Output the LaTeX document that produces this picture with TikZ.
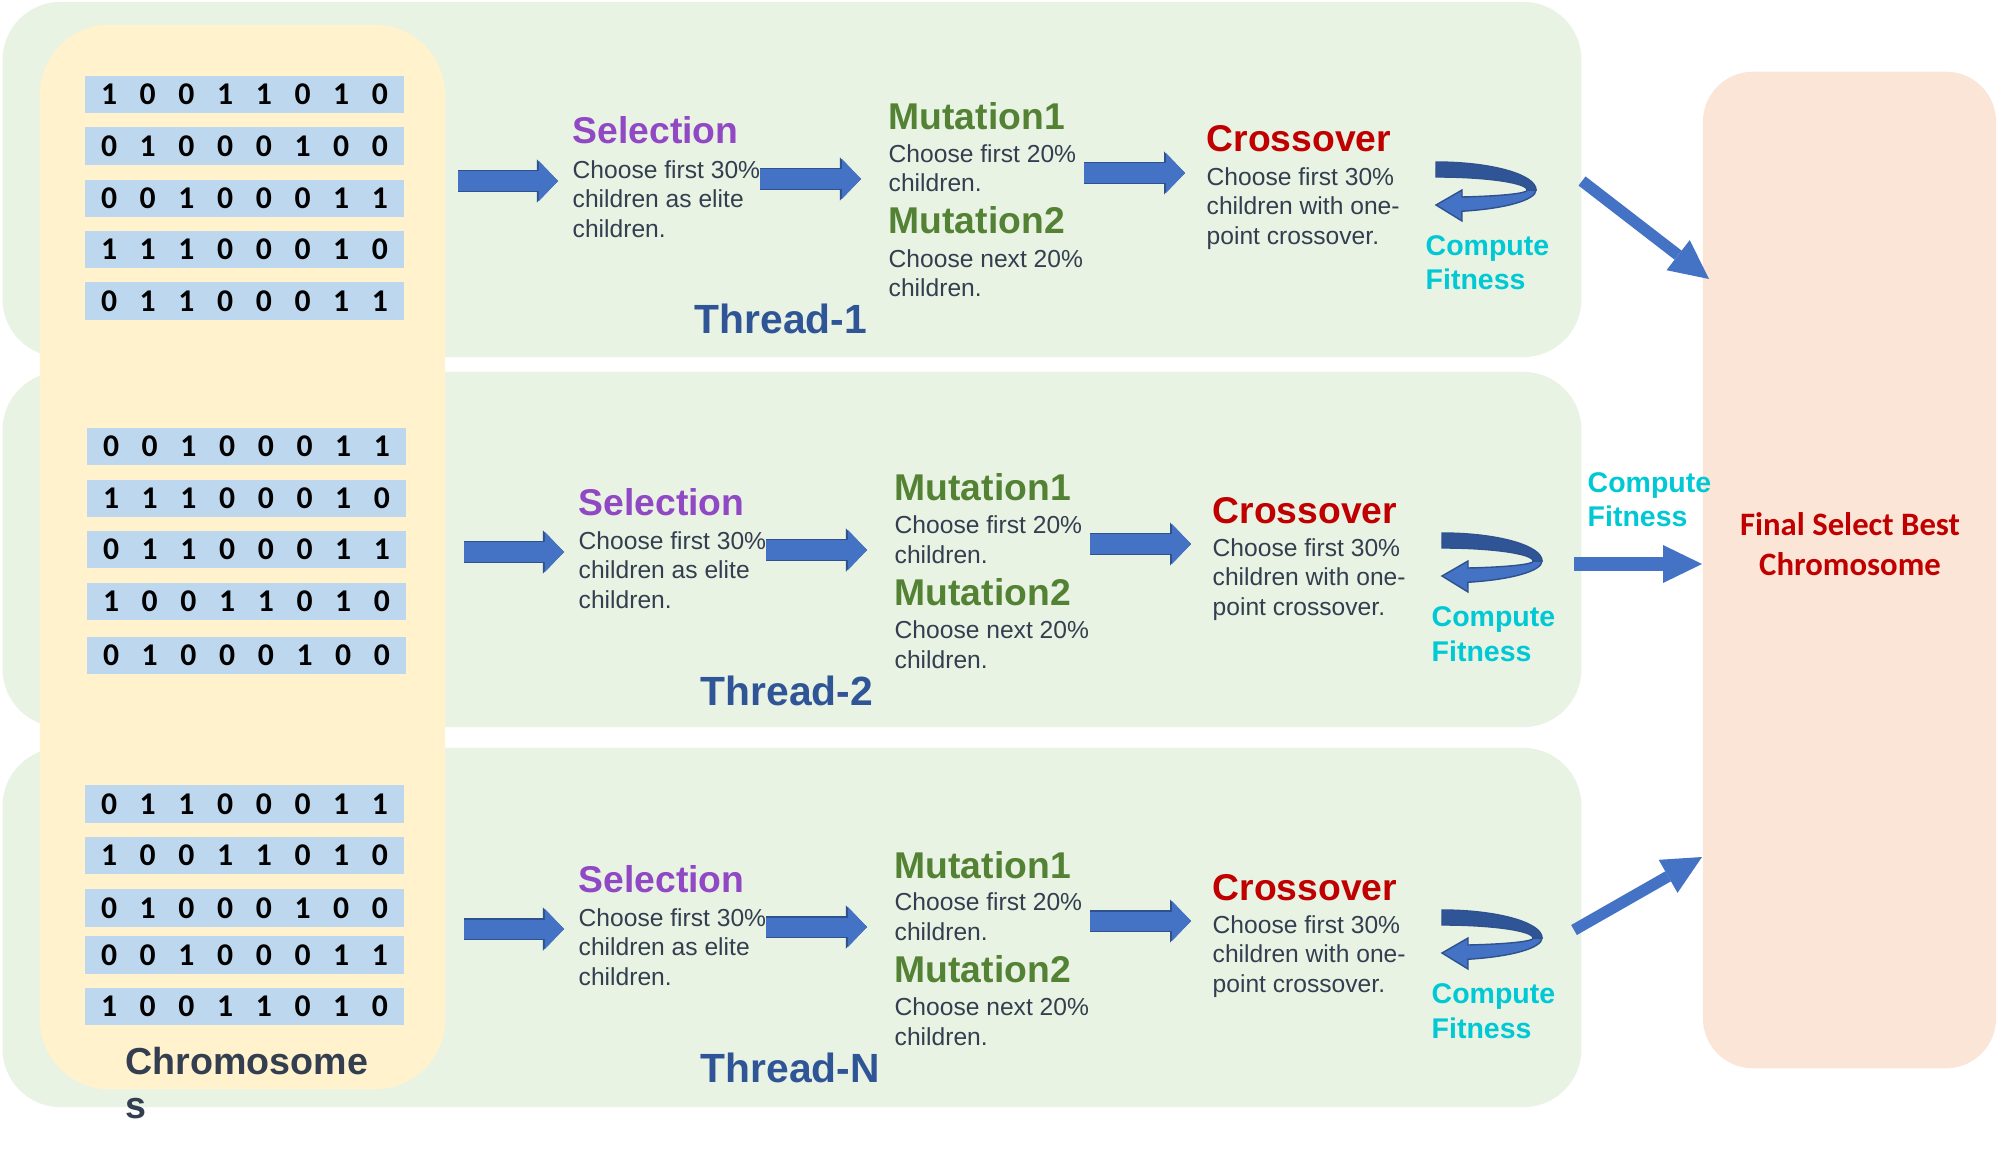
\documentclass[tikz,border=0pt]{standalone}
\usepackage{fontspec}
\setmainfont{Liberation Sans}
\newfontfamily\calfont{Carlito}
\usepackage{tikz}
\usepackage{xcolor}
\usetikzlibrary{arrows.meta}
\tikzset{>=latex}
\definecolor{panelgreen}{RGB}{233,243,227}
\definecolor{panelyellow}{RGB}{255,242,205}
\definecolor{panelpeach}{RGB}{250,229,214}
\definecolor{rowblue}{RGB}{189,215,238}
\definecolor{arrowblue}{RGB}{68,114,196}
\definecolor{arrowedge}{RGB}{47,82,143}
\definecolor{ribbondark}{RGB}{47,85,151}
\definecolor{bodytext}{RGB}{51,63,80}
\definecolor{selpurple}{RGB}{145,72,196}
\definecolor{mutgreen}{RGB}{84,130,53}
\definecolor{crossred}{RGB}{192,0,0}
\definecolor{fitcyan}{RGB}{0,200,212}
\definecolor{threadblue}{RGB}{47,85,151}

\begin{document}
\begin{tikzpicture}[x=0.01cm, y=-0.01cm,
		panel/.style = {rectangle, inner sep=0pt, rounded corners=#1},
		bitrow/.style = {rectangle, fill=rowblue, inner sep=0pt, minimum width=3.18cm, minimum height=0.37cm},
		bit/.style = {inner sep=0pt, font=\calfont\bfseries\fontsize{9}{10}\selectfont},
		steptitle/.style = {anchor=base west, inner sep=0pt, font=\bfseries\fontsize{10.6}{12}\selectfont},
		stepbody/.style = {anchor=base west, inner sep=0pt, align=left, text=bodytext, font=\fontsize{7}{8.45}\selectfont},
		fitness/.style = {anchor=base west, inner sep=0pt, align=left, text=fitcyan, font=\bfseries\fontsize{8.1}{9.7}\selectfont},
		threadlabel/.style = {anchor=base west, inner sep=0pt, text=threadblue, font=\bfseries\fontsize{11.6}{14}\selectfont},
		blk/.style = {draw=arrowblue, line width=0.19cm,
			-{Triangle[length=0.19cm, width=0.40cm, line width=0pt]},
			preaction={draw=arrowedge, line width=0.215cm, -{Triangle[length=0.21cm, width=0.43cm, line width=0pt]}}
		},
		bigarrow/.style = {draw=arrowblue, line width=#1, -{Triangle[length=0.39cm, width=0.38cm, line width=0pt]}},
	]
	\useasboundingbox (0,0) rectangle (1997,1152);
	\foreach \thr/\cy/\h in {1/179.5/3.55cm, 2/549.5/3.55cm, 3/927.5/3.59cm}
		\node[panel=0.58cm, fill=panelgreen, minimum width=15.78cm, minimum height=\h] (thr\thr) at (792,\cy) {};
	\node[panel=0.70cm, fill=panelyellow, minimum width=4.05cm, minimum height=10.64cm] (pool) at (242.5,557) {};
	\node[panel=0.50cm, fill=panelpeach, minimum width=2.93cm, minimum height=9.96cm] (final) at (1849.5,570) {};
	
	\foreach \cx/\cy/\bits [count=\r] in {
			244.5/94.5/{1,0,0,1,1,0,1,0}, 244.5/146/{0,1,0,0,0,1,0,0}, 244.5/198.5/{0,0,1,0,0,0,1,1},
			244.5/249.5/{1,1,1,0,0,0,1,0}, 244.5/301/{0,1,1,0,0,0,1,1},
			246.5/446.5/{0,0,1,0,0,0,1,1}, 246.5/498.5/{1,1,1,0,0,0,1,0}, 246.5/549.5/{0,1,1,0,0,0,1,1},
			246.5/601.5/{1,0,0,1,1,0,1,0}, 246.5/655.5/{0,1,0,0,0,1,0,0},
			244.5/804/{0,1,1,0,0,0,1,1}, 244.5/855.5/{1,0,0,1,1,0,1,0}, 244.5/908/{0,1,0,0,0,1,0,0},
			244.5/955/{0,0,1,0,0,0,1,1}, 244.5/1006.5/{1,0,0,1,1,0,1,0}}
	{
		\node[bitrow] (row\r) at (\cx,\cy) {};
		\foreach \b [count=\k] in \bits
			\node[bit] (row\r-\k) at ({\cx+(\k-4.5)*38.7},\cy) {\b};
	}
	\node[anchor=base west, inner sep=0pt, align=left, text=bodytext, font=\bfseries\fontsize{10.7}{12.5}\selectfont] (poollabel) at (125,1118) {Chromosome\\s};
	
	\foreach \thr/\dx/\dy/\lab in {1/0/0/Thread-1, 2/6/371/Thread-2, 3/6/748/Thread-N}
	{
		\begin{scope}[shift={(\dx,\dy)}]
			\node[steptitle, text=selpurple] (sel\thr) at (572,144) {Selection};
			\node[stepbody] (seltxt\thr) at (572,237.5) {Choose first 30\%\\children as elite\\children.};
			\node[steptitle, text=mutgreen] (mutA\thr) at (888,130) {Mutation1};
			\node[stepbody] (mutAtxt\thr) at (888,192) {Choose first 20\%\\children.};
			\node[steptitle, text=mutgreen] (mutB\thr) at (888,234) {Mutation2};
			\node[stepbody] (mutBtxt\thr) at (888,297) {Choose next 20\%\\children.};
			\node[steptitle, text=crossred] (cross\thr) at (1206,152) {Crossover};
			\node[stepbody] (crosstxt\thr) at (1206,244.5) {Choose first 30\%\\children with one-\\point crossover.};
			\node[fitness] (fit\thr) at (1425,290) {Compute\\Fitness};
			\node[threadlabel] (lab\thr) at (694,334) {\lab};
			\coordinate (p\thr-0) at (458,181);
			\coordinate (p\thr-1) at (558,181);
			\coordinate (p\thr-2) at (760,179);
			\coordinate (p\thr-3) at (861,179);
			\coordinate (p\thr-4) at (1084,173);
			\coordinate (p\thr-5) at (1185,173);
			\draw[blk] (p\thr-0) -- (p\thr-1);
			\draw[blk] (p\thr-2) -- (p\thr-3);
			\draw[blk] (p\thr-4) -- (p\thr-5);
			\filldraw[fill=arrowblue, draw=arrowedge, line width=0.4pt] (1536,190)
				arc[start angle=0, end angle=-75, x radius=1cm, y radius=0.22cm]
				-- (1462,221) -- (1436,205) -- (1462,190) -- (1462,197)
				arc[start angle=-73.4, end angle=0, x radius=0.91cm, y radius=0.07cm] -- cycle;
			\filldraw[fill=ribbondark, draw=arrowedge, line width=0.4pt] (1436,162)
				arc[start angle=90, end angle=0, x radius=1cm, y radius=0.28cm]
				-- (1527,190)
				arc[start angle=0, end angle=90, x radius=0.91cm, y radius=0.13cm] -- cycle;
		\end{scope}
	}
	
	\node[fitness] (fitout) at (1587,527) {Compute\\Fitness};
	\node[anchor=base, inner sep=0pt, align=center, text=crossred, font=\calfont\bfseries\fontsize{9.3}{11.1}\selectfont] (finaltxt) at (1850,575) {Final Select Best\\Chromosome};
	\coordinate (q1) at (1582,181);
	\coordinate (r1) at (1709,279);
	\coordinate (q2) at (1574,564);
	\coordinate (r2) at (1702,564);
	\coordinate (q3) at (1574,930);
	\coordinate (r3) at (1702,857);
	\draw[bigarrow=0.115cm] (q1) -- (r1);
	\draw[bigarrow=0.13cm] (q2) -- (r2);
	\draw[bigarrow=0.115cm] (q3) -- (r3);
\end{tikzpicture}
\end{document}
